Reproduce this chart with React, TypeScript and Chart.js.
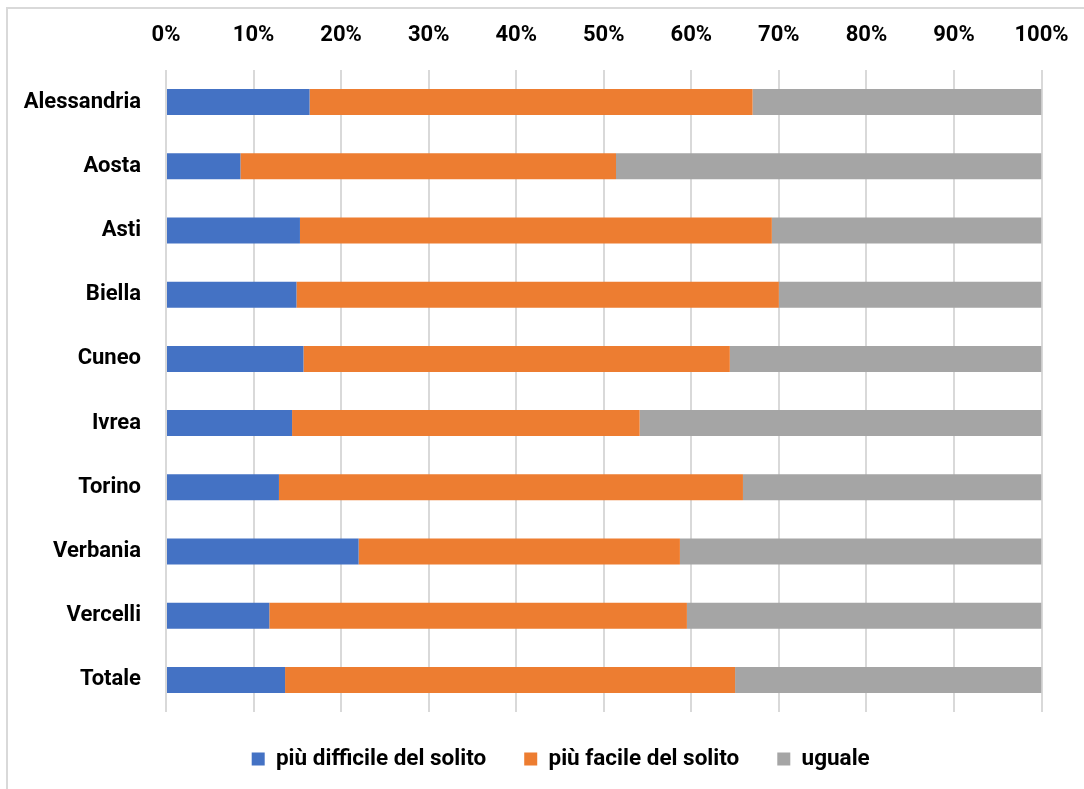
import React, { useEffect, useRef } from "react";
import { Chart, registerables } from "chart.js";

Chart.register(...registerables);

const categories = ["Alessandria", "Aosta", "Asti", "Biella", "Cuneo", "Ivrea", "Torino", "Verbania", "Vercelli", "Totale"];
const piuDifficile = [16.4, 8.5, 15.3, 14.9, 15.7, 14.4, 12.9, 22.0, 11.8, 13.6];
const piuFacile = [50.6, 42.9, 53.9, 55.1, 48.7, 39.7, 53.0, 36.7, 47.7, 51.4];
const uguale = [33.0, 48.6, 30.8, 30.0, 35.6, 45.9, 34.1, 41.3, 40.5, 35.0];
const seriesNames = ["più difficile del solito", "più facile del solito", "uguale"];
const tickValues = [0, 10, 20, 30, 40, 50, 60, 70, 80, 90, 100];

const FONT = "Roboto, 'Open Sans', sans-serif";
const W = 1084;
const H = 789;
const CW = 1091;

const legendShift = {
  id: "legendShift",
  afterUpdate(chart: any) {
    const lg = chart.legend;
    if (!lg) return;
    const w = lg.right - lg.left;
    const h = lg.bottom - lg.top;
    const x = 213.7;
    const y = 709.75;
    lg.left = x;
    lg.right = x + w;
    lg.top = y;
    lg.bottom = y + h;
  },
};

export default function App() {
  const ref = useRef<HTMLCanvasElement | null>(null);

  useEffect(() => {
    if (!ref.current) return;
    const chart = new Chart(ref.current, {
      type: "bar",
      data: {
        labels: categories,
        datasets: [
          { label: seriesNames[0], data: piuDifficile, backgroundColor: "#4472C4", borderWidth: 0 },
          { label: seriesNames[1], data: piuFacile, backgroundColor: "#ED7D31", borderWidth: 0 },
          { label: seriesNames[2], data: uguale, backgroundColor: "#A5A5A5", borderWidth: 0 },
        ],
      },
      options: {
        indexAxis: "y",
        responsive: false,
        animation: false,
        layout: { padding: { left: 10, right: 49.5, top: 10, bottom: 6.5 } },
        datasets: { bar: { categoryPercentage: 1, barPercentage: 0.405 } },
        scales: {
          x: {
            position: "top",
            stacked: true,
            min: 0,
            max: 100,
            afterBuildTicks: (scale: any) => {
              scale.ticks = tickValues.map((v) => ({ value: v }));
            },
            afterFit: (scale: any) => {
              scale.height = 60;
            },
            ticks: {
              callback: (v: any) => v + "%",
              font: { family: FONT, size: 22, weight: "bold" },
              color: "#000",
              padding: 21,
              maxRotation: 0,
            },
            grid: { color: "#d9d9d9", lineWidth: 2, drawTicks: false },
            border: { display: false },
          },
          y: {
            stacked: true,
            afterFit: (scale: any) => {
              scale.width = 156;
            },
            ticks: {
              font: { family: FONT, size: 22, weight: "bold" },
              color: "#000",
              padding: 25,
            },
            grid: { display: false, drawTicks: false },
            border: { display: false },
          },
        },
        plugins: {
          legend: {
            position: "bottom",
            align: "start",
            labels: {
              boxWidth: 13,
              boxHeight: 13,
              padding: 38,
              color: "#000",
              font: { family: FONT, size: 22.5, weight: "bold" },
            },
          },
          tooltip: { enabled: false },
        },
      },
      plugins: [legendShift],
    });
    return () => chart.destroy();
  }, []);

  return (
    <div style={{ position: "fixed", left: 0, top: 0, width: W, height: H, overflow: "hidden", background: "#fff" }}>
      <div
        style={{
          position: "absolute",
          left: 6,
          top: 7,
          width: 2000,
          height: 2000,
          borderLeft: "2px solid #d9d9d9",
          borderTop: "2px solid #d9d9d9",
        }}
      />
      <canvas ref={ref} width={CW} height={H} style={{ position: "absolute", left: 0, top: 0, width: CW, height: H }} />
    </div>
  );
}
